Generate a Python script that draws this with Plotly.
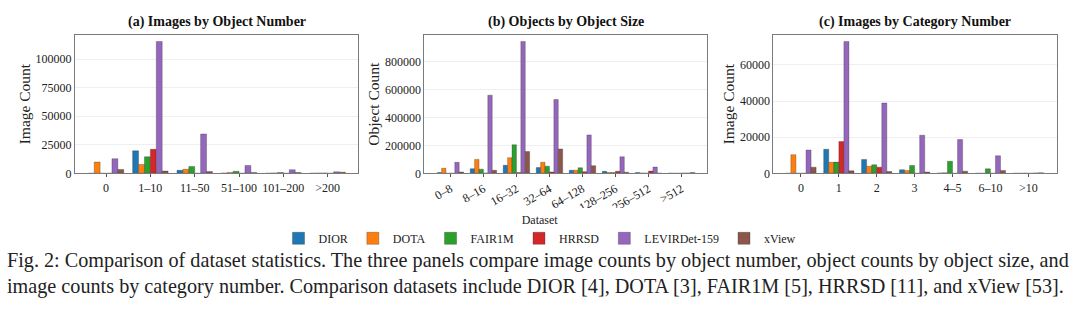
import plotly.graph_objects as go

datasets = ["DIOR", "DOTA", "FAIR1M", "HRRSD", "LEVIRDet-159", "xView"]
colors = ["#1f77b4", "#ff7f0e", "#2ca02c", "#d62728", "#9467bd", "#8c564b"]

# (a) Images by Object Number
cats_a = ["0", "1–10", "11–50", "51–100", "101–200", ">200"]
vals_a = {
    "DIOR":         [0, 19700, 2600, 300, 100, 100],
    "DOTA":         [9900, 7700, 3500, 800, 300, 200],
    "FAIR1M":       [0, 14500, 6000, 1800, 700, 300],
    "HRRSD":        [0, 21000, 0, 0, 0, 0],
    "LEVIRDet-159": [12800, 115400, 34400, 6800, 3200, 1300],
    "xView":        [3400, 2000, 1500, 800, 700, 1000],
}

# (b) Objects by Object Size
cats_b = ["0–8", "8–16", "16–32", "32–64", "64–128", "128–256", "256–512", ">512"]
vals_b = {
    "DIOR":         [5000, 33000, 58000, 42000, 22000, 14000, 5000, 1000],
    "DOTA":         [36000, 100000, 112000, 79000, 22000, 6000, 2000, 0],
    "FAIR1M":       [0, 30000, 205000, 51000, 40000, 5000, 1000, 0],
    "HRRSD":        [0, 2000, 5000, 10000, 12000, 15000, 16000, 2000],
    "LEVIRDet-159": [79000, 561000, 947000, 530000, 276000, 119000, 45000, 2000],
    "xView":        [10000, 22000, 156000, 175000, 55000, 8000, 1000, 6000],
}

# (c) Images by Category Number
cats_c = ["0", "1", "2", "3", "4–5", "6–10", ">10"]
vals_c = {
    "DIOR":         [0, 13300, 7700, 2000, 200, 0, 0],
    "DOTA":         [10300, 6100, 3900, 1500, 300, 0, 0],
    "FAIR1M":       [0, 6200, 4700, 4300, 6650, 2500, 100],
    "HRRSD":        [0, 17600, 3400, 0, 0, 0, 0],
    "LEVIRDet-159": [12900, 73000, 38900, 21100, 18700, 9700, 200],
    "xView":        [3400, 1400, 1000, 700, 1200, 1600, 300],
}

titles = ["(a) Images by Object Number", "(b) Objects by Object Size", "(c) Images by Category Number"]
ytitles = ["Image Count", "Object Count", "Image Count"]
panels = [(cats_a, vals_a), (cats_b, vals_b), (cats_c, vals_c)]

caption_lines = [
    "Fig. 2: Comparison of dataset statistics. The three panels compare image counts by object number, "
    "object counts by object size, and",
    "image counts by category number. Comparison datasets include "
    "DIOR [4], DOTA [3], FAIR1M [5], HRRSD [11], and xView [53].",
]

W, H = 1080, 311
xdomains = [(75, 358.3), (424.3, 707.3), (773.3, 1056.7)]
ydom = [1 - 177.3 / H, 1 - 35.7 / H]
yranges = [121170, 994000, 76650]
ytickvals = [[0, 25000, 50000, 75000, 100000],
             [0, 200000, 400000, 600000, 800000],
             [0, 20000, 40000, 60000]]
xranges = [[-0.70, 5.69], [-0.79, 7.78], [-0.73, 6.75]]

FONT = "Liberation Serif, Times New Roman, serif"

fig = go.Figure()
for p, (cats, vals) in enumerate(panels):
    xa = "x" if p == 0 else f"x{p+1}"
    ya = "y" if p == 0 else f"y{p+1}"
    for d, c in zip(datasets, colors):
        fig.add_trace(go.Bar(
            x=cats, y=vals[d], name=d, legendgroup=d, showlegend=(p == 0),
            marker=dict(color=c, line=dict(color="rgba(40,40,40,0.5)", width=0.6)),
            xaxis=xa, yaxis=ya,
        ))

axis_common = dict(showline=True, linecolor="#7a7a7a", linewidth=1, mirror=True,
                   tickfont=dict(family=FONT, size=12, color="#222"))
layout = dict(
    width=W, height=H, margin=dict(l=0, r=0, t=0, b=0),
    paper_bgcolor="white", plot_bgcolor="white",
    barmode="group", bargap=0.2, bargroupgap=0,
    font=dict(family=FONT, color="#222"),
    showlegend=True,
    legend=dict(orientation="h", x=0.5, xanchor="center", y=1 - 213 / H, yanchor="top",
                font=dict(family=FONT, size=12), title=dict(text="Dataset", side="top center",
                font=dict(family=FONT, size=12)),
                itemwidth=30, traceorder="normal"),
)
annotations = []
for p in range(3):
    sx = "" if p == 0 else str(p + 1)
    x0, x1 = xdomains[p]
    layout[f"xaxis{sx}"] = dict(
        domain=[x0 / W, x1 / W], anchor=f"y{sx}", range=xranges[p],
        ticks="outside", ticklen=3, tickcolor="#555", showgrid=False,
        tickangle=-30 if p == 1 else 0, **axis_common)
    layout[f"yaxis{sx}"] = dict(
        domain=ydom, anchor=f"x{sx}", range=[0, yranges[p]],
        tickvals=ytickvals[p], tickformat="d", ticks="", showgrid=True,
        gridcolor="#efefef", gridwidth=1, zeroline=False,
        title=dict(text=ytitles[p], font=dict(family=FONT, size=15.5), standoff=1),
        **axis_common)
    annotations.append(dict(text=f"<b>{titles[p]}</b>", x=(x0 + x1) / 2 / W, y=1 - 22.5 / H,
                            xref="paper", yref="paper", showarrow=False,
                            font=dict(family=FONT, size=14, color="#111"),
                            xanchor="center", yanchor="middle"))

for i, line in enumerate(caption_lines):
    annotations.append(dict(text=line, x=5 / W, y=1 - (267 + 26 * i) / H, xref="paper", yref="paper",
                            showarrow=False, align="left", xanchor="left", yanchor="middle",
                            font=dict(family=FONT, size=20.2, color="#222")))
layout["annotations"] = annotations
fig.update_layout(**layout)

fig.write_html("out.html")
